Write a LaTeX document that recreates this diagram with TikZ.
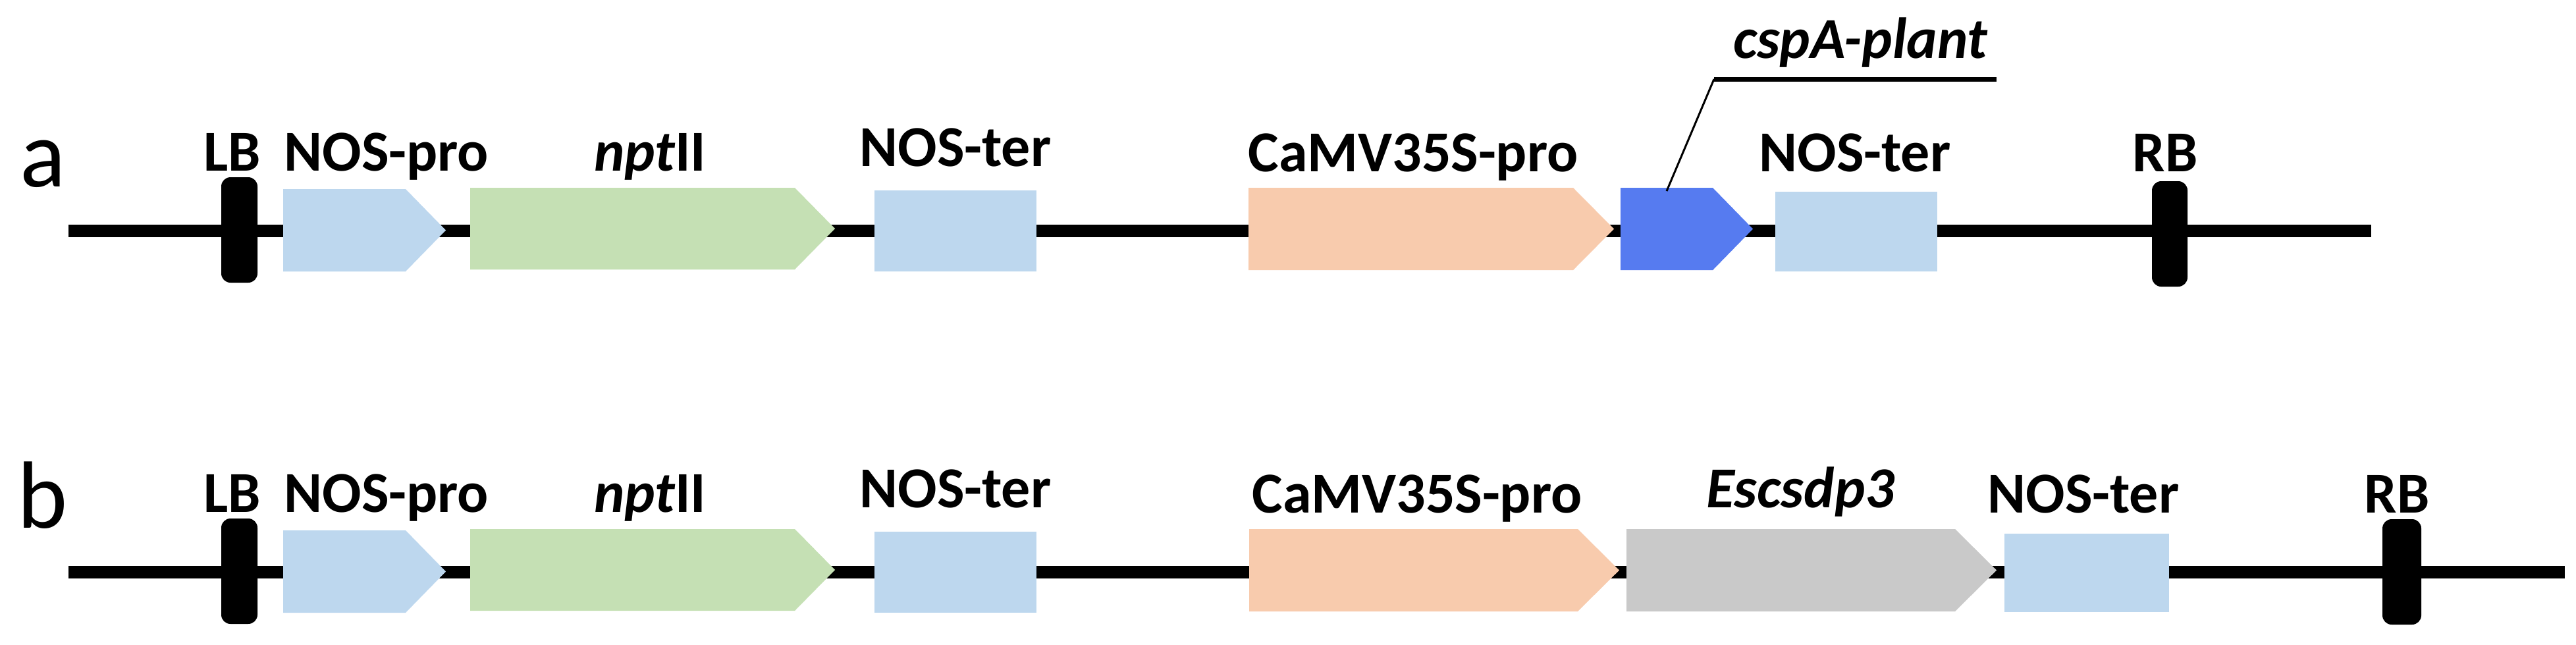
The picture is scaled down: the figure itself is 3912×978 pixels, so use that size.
\documentclass[tikz,border=0pt]{standalone}
\usepackage{fontspec}
\setmainfont{Carlito}
\definecolor{lblue}{HTML}{BDD7EE}
\definecolor{lgreen}{HTML}{C5E0B4}
\definecolor{peach}{HTML}{F8CBAD}
\definecolor{dblue}{HTML}{567BF0}
\definecolor{lgrey}{HTML}{C9C9C9}
\newcommand\genearrow[7]{% name, x1, x2, xtip, ytop, ybot, color
  \fill[#7] (#2,#5) -- (#3,#5) -- (#4,{(#5+#6)/2}) -- (#3,#6) -- (#2,#6) -- cycle;
  \coordinate (#1) at ({(#2+#3)/2},{(#5+#6)/2});}
\begin{document}
\begin{tikzpicture}[x=1pt,y=-1pt,
  lbl/.style={anchor=base,font=\fontsize{88}{90}\selectfont\bfseries,inner sep=0},
  row/.style={anchor=base,font=\fontsize{145}{150}\selectfont,inner sep=0},
  bb/.style={line width=19pt},
  bar/.style={fill=black,rounded corners=14pt}]
\useasboundingbox (0,0) rectangle (3912,978);
% ---- row a
\node[row] (la) at (65,283) {a};
\coordinate (a0) at (104,350); \coordinate (a1) at (3601,350);
\draw[bb] (a0) -- (a1);
\fill[bar] (336,269) rectangle (391,429);
\genearrow{ga1}{430}{616}{677}{287}{412}{lblue}
\genearrow{ga2}{714}{1207}{1268}{285}{409}{lgreen}
\fill[lblue] (1328,289) rectangle (1574,412);
\genearrow{ga4}{1896}{2389}{2451}{285}{410}{peach}
\genearrow{ga5}{2461}{2601}{2662}{285}{410}{dblue}
\fill[lblue] (2696,291) rectangle (2942,412);
\fill[bar] (3268,275) rectangle (3322,435);
\node[lbl] (tLBa) at (353,259) {LB};
\node[lbl] (tNPa) at (587,259) {NOS-pro};
\node[lbl] (tNa) at (987,259) {\itshape npt\upshape II};
\node[lbl] (tNTa) at (1451,252) {NOS-ter};
\node[lbl] (tCa) at (2146,260) {CaMV35S-pro};
\node[lbl] (tCs) at (2825,88) {\itshape cspA-plant};
\node[lbl] (tNT2a) at (2817,260) {NOS-ter};
\node[lbl] (tRBa) at (3288,260) {RB};
\coordinate (k1) at (2603,120); \coordinate (k2) at (3032,120);
\coordinate (k0) at (2531,290);
\draw[line width=3pt] (k0) -- (k1);
\draw[line width=7pt] (k1) -- (k2);
% ---- row b
\node[row] (lb) at (65,801) {b};
\coordinate (b0) at (104,868); \coordinate (b1) at (3895,868);
\draw[bb] (b0) -- (b1);
\fill[bar] (336,787) rectangle (391,947);
\genearrow{gb1}{430}{616}{677}{805}{930}{lblue}
\genearrow{gb2}{714}{1207}{1268}{803}{927}{lgreen}
\fill[lblue] (1328,807) rectangle (1574,930);
\genearrow{gb4}{1897}{2396}{2459}{803}{928}{peach}
\genearrow{gb5}{2470}{2969}{3032}{803}{928}{lgrey}
\fill[lblue] (3044,810) rectangle (3294,929);
\fill[bar] (3618,788) rectangle (3677,948);
\node[lbl] (tLBb) at (353,777) {LB};
\node[lbl] (tNPb) at (587,777) {NOS-pro};
\node[lbl] (tNb) at (987,777) {\itshape npt\upshape II};
\node[lbl] (tNTb) at (1451,770) {NOS-ter};
\node[lbl] (tCb) at (2152,778) {CaMV35S-pro};
\node[lbl] (tEb) at (2734,770) {\itshape Escsdp3};
\node[lbl] (tNT2b) at (3164,778) {NOS-ter};
\node[lbl] (tRBb) at (3640,778) {RB};
\end{tikzpicture}
\end{document}
